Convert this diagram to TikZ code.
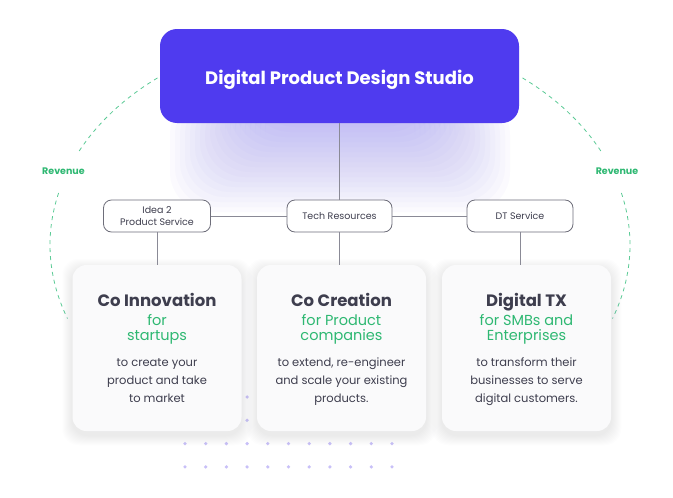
\documentclass[tikz,border=0pt]{standalone}
\usepackage{fontspec}
\setmainfont{Poppins}
\usetikzlibrary{positioning}
\definecolor{studiocol}{RGB}{79,59,239}
\definecolor{ink}{RGB}{62,62,78}
\definecolor{leaf}{RGB}{46,184,114}
\definecolor{orbitcol}{RGB}{92,203,150}
\definecolor{wire}{RGB}{138,138,150}
\definecolor{boxline}{RGB}{110,110,122}
\definecolor{cardbg}{RGB}{250,250,251}
\definecolor{dotcol}{RGB}{200,192,248}
\definecolor{shadowcol}{RGB}{140,146,170}

\begin{document}
\begin{tikzpicture}[x=1pt,y=-1pt,
  studiobox/.style={fill=studiocol, rounded corners=17pt, minimum width=359pt, minimum height=94pt, inner sep=0pt, text=white, text height=16pt, text depth=0pt, font=\fontsize{18}{18}\selectfont\bfseries},
  servicebox/.style={draw=boxline, line width=0.8pt, fill=white, rounded corners=8pt, minimum height=32pt, inner sep=0pt, font=\fontsize{9.5}{11.7}\selectfont, text=ink, align=center},
  card/.style={fill=cardbg, rounded corners=14pt, minimum width=169pt, minimum height=166pt, inner sep=0pt},
  cardtitle/.style={anchor=base, font=\fontsize{16.5}{16.5}\selectfont\bfseries, text=ink},
  cardsub/.style={anchor=base, align=center, font=\fontsize{14.5}{15}\selectfont, text=leaf},
  carddesc/.style={anchor=base, align=center, font=\fontsize{11.5}{17.7}\selectfont, text=ink},
  revenue/.style={anchor=base, font=\fontsize{9.5}{9.5}\selectfont\bfseries, text=leaf},
  link/.style={draw=wire, line width=0.8pt},
  orbit/.style={draw=orbitcol, line width=0.8pt, dash pattern=on 4pt off 4pt}]

\useasboundingbox[fill=white] (0,0) rectangle (673,498);

\foreach \i in {0,...,19}
  \fill[studiocol!60, opacity=0.035, rounded corners=40pt] (170+5*\i,95) rectangle (510-5*\i,212-5*\i);

\foreach \c in {0,...,10}
  \foreach \r in {0,...,3}
    \fill[dotcol] (185+20.7*\c,397+23.3*\r) circle (1.8pt);

\draw[orbit] (340,245) ++(-129:290 and 215) arc[start angle=-129, end angle=-155, x radius=290, y radius=215];
\draw[orbit] (340,245) ++(-166:290 and 215) arc[start angle=-166, end angle=-200, x radius=290, y radius=215];
\draw[orbit] (340,245) ++(-51:290 and 215) arc[start angle=-51, end angle=-25, x radius=290, y radius=215];
\draw[orbit] (340,245) ++(-14:290 and 215) arc[start angle=-14, end angle=20, x radius=290, y radius=215];
\node[revenue] (revleft) at (63.5,174) {Revenue};
\node[revenue] (revright) at (617,174) {Revenue};

\foreach \x in {157,341.5,526.5}
  \foreach \i in {1,...,10}
    \fill[shadowcol, opacity=0.015, rounded corners=16pt] (\x-84.5-\i,265-\i+4) rectangle (\x+84.5+\i,431+\i+4);

\node[studiobox] (studio) at (339.5,76) {Digital Product Design Studio};
\node[servicebox, minimum width=107pt] (idea) at (157,216) {Idea 2\\Product Service};
\node[servicebox, minimum width=105pt] (tech) at (339.5,216) {Tech Resources};
\node[servicebox, minimum width=106pt] (dtsvc) at (520,216) {DT Service};

\node[card] (coinno) at (157,348) {};
\node[card] (cocre) at (341.5,348) {};
\node[card] (digtx) at (526.5,348) {};

\draw[link] (studio) -- (tech);
\draw[link] (idea) -- (tech);
\draw[link] (tech) -- (dtsvc);
\draw[link] (idea.south) -- (idea.south |- coinno.north);
\draw[link] (tech.south) -- (tech.south |- cocre.north);
\draw[link] (dtsvc.south) -- (dtsvc.south |- digtx.north);

\node[cardtitle] (innotitle) at (157,306) {Co Innovation};
\node[cardsub] (innosub) at (157,340.7) {for\\startups};
\node[carddesc] (innotext) at (157,402) {to create your\\product and take\\to market};

\node[cardtitle] (cretitle) at (341.5,306) {Co Creation};
\node[cardsub] (cresub) at (341.5,340.7) {for Product\\companies};
\node[carddesc] (cretext) at (341.5,402) {to extend, re-engineer\\and scale your existing\\products.};

\node[cardtitle] (dtxtitle) at (526.5,306) {Digital TX};
\node[cardsub] (dtxsub) at (526.5,340.7) {for SMBs and\\Enterprises};
\node[carddesc] (dtxtext) at (526.5,402) {to transform their\\businesses to serve\\digital customers.};
\end{tikzpicture}
\end{document}
